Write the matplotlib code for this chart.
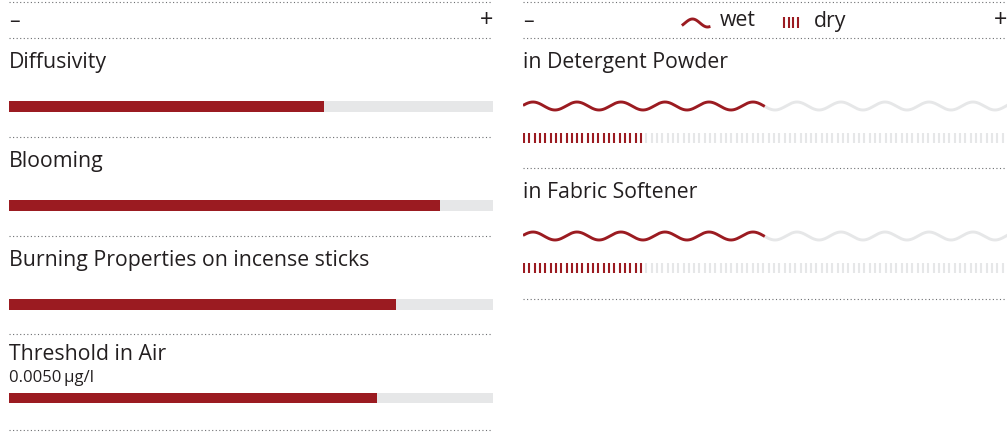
import numpy as np
import matplotlib
matplotlib.use("Agg")
import matplotlib.pyplot as plt

# ---- data ----
left_labels = ["Diffusivity", "Blooming", "Burning Properties on incense sticks", "Threshold in Air"]
left_sublabels = ["", "", "", "0.0050\u2009µg/l"]
left_values = [0.65, 0.89, 0.80, 0.76]

right_labels = ["in Detergent Powder", "in Fabric Softener"]
wet_values = [0.50, 0.50]
dry_values = [0.25, 0.25]

legend_labels = ["wet", "dry"]
scale_labels = ["\u2013", "+"]

# ---- style ----
RED = "#9b1b21"
GREY = "#e6e7e8"
TXT = "#231f20"
DOT = "#6d6e71"
FONT = "Open Sans"
FS = 15.3
W, H = 1007, 433

plt.rcParams['font.family'] = [FONT, 'DejaVu Sans']
fig = plt.figure(figsize=(W / 100, H / 100), dpi=100)

def panel(x0, width):
    ax = fig.add_axes([x0 / W, 0, width / W, 1])
    ax.set_xlim(0, 1)
    ax.set_ylim(H, 0)
    ax.axis("off")
    return ax

axL = panel(9, 484)
axR = panel(523, 484)

def dotted(ax, y):
    ax.plot([0, 1], [y, y], color=DOT, lw=0.8, ls=(0, (1, 2.2)), solid_capstyle="butt")

for ax in (axL, axR):
    dotted(ax, 1.5)
    dotted(ax, 38)
    ax.text(0, 21, scale_labels[0], fontsize=FS, color=TXT, va="center", ha="left")
    ax.text(1, 21, scale_labels[1], fontsize=FS + 1.5, color=TXT, va="center", ha="right")

# ---- left panel: bars ----
row_top = [38, 137, 236, 334]
for i, (lab, sub, v) in enumerate(zip(left_labels, left_sublabels, left_values)):
    t = row_top[i]
    ax = axL
    ax.text(0, t + 30 if not sub else t + 26, lab, fontsize=FS, color=TXT, va="baseline", ha="left")
    if sub:
        ax.text(0, t + 48, sub, fontsize=12, color=TXT, va="baseline", ha="left")
    yb = t + 68.5
    if i == 3:
        yb = t + 64
    ax.barh(yb, 1, height=10.5, left=0, color=GREY, linewidth=0)
    ax.barh(yb, v, height=10.5, left=0, color=RED, linewidth=0)
    dotted(ax, row_top[i + 1] if i + 1 < len(row_top) else 430)

# ---- right panel: wet waves and dry ticks ----
period = 44 / 484
amp = 4.0
n_ticks = 91
rtop = [38, 168]
for i, (lab, wv, dv) in enumerate(zip(right_labels, wet_values, dry_values)):
    t = rtop[i]
    ax = axR
    ax.text(0, t + 30, lab, fontsize=FS, color=TXT, va="baseline", ha="left")
    yc = t + 68
    xs = np.linspace(0, 1.02, 2000)
    ys = yc - amp * np.cos(2 * np.pi * (xs - 10 / 484) / period)
    m = xs <= wv
    ax.plot(xs[~m], ys[~m], color=GREY, lw=2.1, solid_capstyle="butt", clip_on=False)
    ax.plot(xs[m], ys[m], color=RED, lw=2.1, solid_capstyle="butt")
    tx = np.arange(n_ticks) / n_ticks + 0.002
    red = tx < dv
    yt = t + 100
    ax.vlines(tx[~red], yt - 5, yt + 5, color=GREY, lw=1.5)
    ax.vlines(tx[red], yt - 5, yt + 5, color=RED, lw=1.5)
    dotted(ax, 168 if i == 0 else 299)

# ---- legend in header ----
lx = np.linspace(0, 26 / 484, 100)
ly = 23 + 4 * np.sin(2 * np.pi * (lx - 2 / 484) / (30 / 484) + np.pi)
axR.plot(lx + 160 / 484, ly, color=RED, lw=2.1)
axR.text(197 / 484, 21, legend_labels[0], fontsize=FS, color=TXT, va="center", ha="left")
for k in range(4):
    xk = (261 + k * 4.7) / 484
    axR.vlines(xk, 17, 28, color=RED, lw=1.5)
axR.text(291 / 484, 21, legend_labels[1], fontsize=FS, color=TXT, va="center", ha="left")

fig.savefig("out.png", dpi=100)
